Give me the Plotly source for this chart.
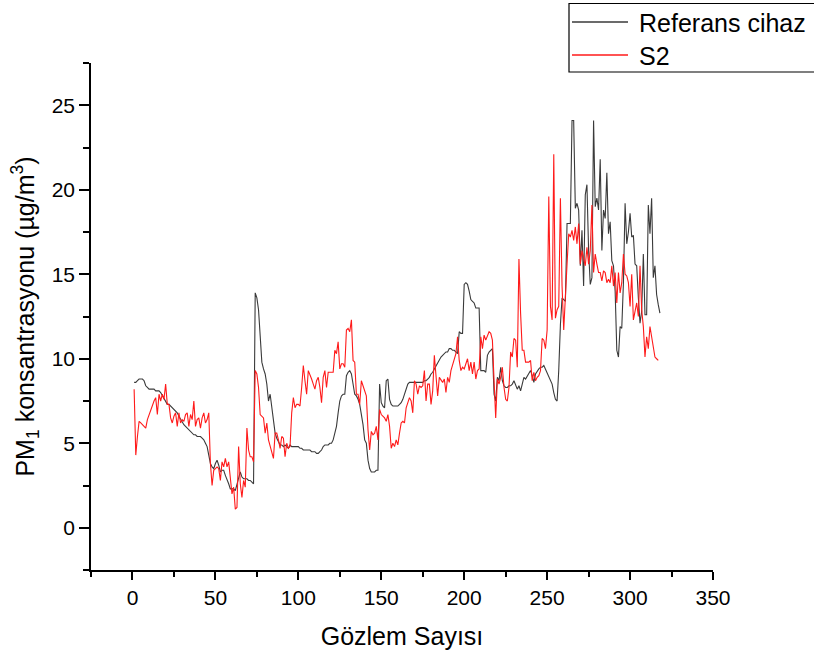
import plotly.graph_objects as go

# Reference device (Referans cihaz) PM1 values, observations 1..318
referans = [
    8.6, 8.6, 8.7, 8.8, 8.8, 8.8, 8.7, 8.4, 8.3, 8.2,
    8.2, 8.2, 8.2, 8.1, 8.1, 8.1, 8.0, 7.8, 7.6, 7.5,
    7.3, 7.3, 7.2, 7.1, 7.0, 6.9, 6.8, 6.6, 6.4, 6.3,
    6.1, 6.0, 5.9, 5.8, 5.7, 5.6, 5.5, 5.5, 5.4, 5.4,
    5.4, 5.3, 5.2, 5.0, 4.8, 4.3, 3.8, 3.6, 3.5, 3.8,
    4.0, 3.7, 3.3, 3.4, 3.4, 3.1, 2.9, 2.6, 2.3, 2.3,
    2.3, 2.2, 2.6, 3.0, 3.3, 3.0, 2.9, 2.9, 2.9, 2.8,
    2.8, 2.7, 2.6, 13.9, 13.6, 12.9, 11.0, 9.8, 9.4, 9.1,
    8.5, 7.5, 7.9, 7.1, 6.1, 5.6, 5.3, 5.1, 4.9, 4.9,
    4.8, 4.9, 4.8, 4.7, 4.9, 4.8, 4.8, 4.8, 4.8, 4.8,
    4.7, 4.7, 4.6, 4.6, 4.6, 4.6, 4.6, 4.5, 4.5, 4.5,
    4.4, 4.4, 4.5, 4.6, 4.8, 4.9, 4.9, 4.9, 5.0, 5.0,
    5.2, 5.6, 6.0, 6.8, 7.5, 7.8, 7.9, 7.9, 9.0, 9.2,
    9.3, 9.1, 8.4, 7.9, 7.8, 7.6, 7.3, 6.8, 6.1, 5.2,
    5.0, 4.0, 3.5, 3.3, 3.3, 3.3, 3.4, 3.4, 8.5, 7.4,
    7.2, 7.1, 8.7, 8.8, 7.6, 7.3, 7.2, 7.2, 7.2, 7.2,
    7.3, 7.4, 7.6, 7.9, 8.2, 8.5, 8.6, 8.6, 8.6, 8.6,
    8.6, 8.6, 8.6, 8.6, 8.6, 8.7, 8.7, 8.8, 8.9, 9.1,
    9.2, 9.4, 9.6, 9.8, 10.0, 10.1, 10.2, 10.3, 10.4, 10.4,
    10.6, 10.6, 10.5, 10.5, 10.4, 10.3, 11.6, 11.5, 11.5, 14.4,
    14.5, 14.4, 14.0, 13.5, 13.4, 13.3, 13.0, 13.0, 13.0, 9.3,
    9.3, 9.3, 9.2, 10.2, 10.4, 10.5, 10.6, 7.9, 7.5, 8.9,
    8.7, 9.5, 8.7, 8.4, 8.3, 8.3, 8.4, 8.4, 8.5, 8.7,
    8.4, 8.2, 8.4, 8.1, 8.5, 8.9, 8.8, 9.0, 9.2, 9.3,
    9.0, 8.6, 9.1, 9.3, 9.4, 9.5, 9.5, 9.6, 9.4, 9.1,
    8.9, 8.7, 8.5, 8.0, 7.6, 7.5, 9.3, 12.0, 13.6, 13.5,
    13.4, 18.0, 18.0, 18.0, 24.1, 24.1, 18.9, 19.2, 18.8, 15.5,
    17.6, 14.3, 19.7, 20.3, 16.4, 14.4, 14.8, 24.1, 19.0, 19.5,
    18.8, 21.8, 16.4, 18.8, 18.3, 21.0, 17.4, 18.1, 15.8, 15.5,
    14.0, 10.5, 10.1, 11.9, 11.8, 14.5, 19.2, 16.8, 17.5, 18.6,
    17.2, 17.3, 15.6, 15.5, 13.6, 12.1, 12.8, 16.2, 12.6, 12.6,
    19.1, 17.4, 19.5, 14.8, 15.5, 13.8, 13.2, 12.7,
]

# Sensor S2 PM1 values, observations 1..317
s2 = [
    8.2, 4.3, 5.4, 6.3, 6.2, 6.1, 6.0, 5.9, 6.4, 6.7,
    6.9, 7.3, 7.5, 7.7, 6.7, 7.9, 7.5, 7.9, 7.6, 8.5,
    7.3, 7.3, 6.5, 6.2, 6.6, 6.8, 6.0, 6.8, 6.2, 6.4,
    6.3, 6.7, 6.8, 6.0, 6.7, 6.4, 7.5, 6.0, 6.4, 6.5,
    5.9, 6.5, 6.8, 6.2, 6.4, 6.8, 3.8, 2.5, 3.4, 3.5,
    3.6, 3.5, 2.8, 3.9, 3.6, 4.1, 3.6, 3.9, 3.1, 2.0,
    2.4, 1.1, 1.2, 4.8, 2.6, 1.8, 2.8, 2.4, 5.9, 4.6,
    4.2, 4.2, 3.9, 9.3, 9.1, 8.3, 6.7, 6.6, 6.5, 5.6,
    6.2, 5.2, 4.8, 4.4, 4.1, 5.6, 5.6, 5.2, 4.7, 5.4,
    5.3, 4.2, 5.0, 4.7, 4.8, 6.8, 7.7, 7.1, 7.3, 7.3,
    7.2, 8.3, 9.6, 8.7, 7.9, 9.3, 9.1, 8.8, 8.5, 8.2,
    8.7, 8.9, 8.3, 7.4, 8.9, 9.3, 8.3, 9.2, 9.2, 9.2,
    9.2, 10.5, 10.3, 11.0, 9.4, 9.7, 9.7, 9.5, 11.7, 11.8,
    11.6, 12.3, 9.9, 9.8, 7.9, 7.9, 7.3, 8.7, 8.4, 8.1,
    7.8, 5.8, 4.6, 5.7, 5.5, 5.6, 6.0, 5.2, 7.0, 6.7,
    6.6, 6.5, 6.3, 6.7, 6.0, 4.7, 5.0, 4.8, 5.2, 4.9,
    5.6, 6.2, 6.3, 6.2, 7.1, 7.4, 7.7, 7.5, 6.8, 8.7,
    8.5, 7.9, 8.4, 8.3, 8.4, 9.3, 7.5, 8.5, 8.5, 7.3,
    8.1, 10.2, 9.1, 7.8, 8.9, 8.7, 8.6, 8.8, 8.0, 8.9,
    8.6, 9.3, 9.6, 9.9, 10.3, 11.3, 9.9, 9.3, 9.5, 9.4,
    9.7, 10.0, 9.3, 9.8, 9.1, 9.8, 8.8, 9.3, 9.4, 11.3,
    10.6, 11.4, 11.1, 11.4, 11.6, 11.5, 11.1, 8.7, 6.5, 8.8,
    8.5, 8.9, 9.5, 8.3, 7.6, 7.5, 8.3, 10.4, 10.1, 11.2,
    11.1, 9.5, 15.9, 12.7, 10.5, 10.5, 9.8, 9.8, 9.8, 9.9,
    8.7, 9.2, 8.7, 8.9, 9.0, 9.3, 11.2, 11.1, 10.6, 11.7,
    19.6, 13.1, 12.3, 22.1, 12.4, 12.9, 13.1, 19.5, 14.3, 11.7,
    14.2, 15.6, 17.4, 17.2, 17.6, 17.0, 17.8, 16.8, 18.0, 15.6,
    16.4, 16.0, 15.5, 16.6, 15.6, 16.4, 19.1, 15.1, 16.2, 15.6,
    15.1, 15.1, 14.6, 15.2, 15.1, 14.5, 14.7, 14.5, 15.5, 14.3,
    15.1, 13.3, 15.1, 13.9, 14.5, 16.2, 15.0, 14.9, 14.5, 13.1,
    15.0, 12.3, 12.9, 13.3, 12.5, 15.5, 12.9, 11.9, 10.1, 11.3,
    10.6, 11.9, 11.3, 10.7, 10.1, 10.0, 9.9,
]

series_names = ["Referans cihaz", "S2"]
series_colors = ["#3a3a3a", "#ff1a1a"]

obs_ref = list(range(1, len(referans) + 1))
obs_s2 = list(range(1, len(s2) + 1))

FONT = "Arial, Liberation Sans, sans-serif"

fig = go.Figure()
fig.add_trace(go.Scatter(x=obs_ref, y=referans, mode="lines", name=series_names[0],
                         line=dict(color=series_colors[0], width=1.1), showlegend=False))
fig.add_trace(go.Scatter(x=obs_s2, y=s2, mode="lines", name=series_names[1],
                         line=dict(color=series_colors[1], width=1.1), showlegend=False))

# the page body margin is removed by post_script, so figure px == page px
W, H = 814, 653
plot_left, plot_right, plot_top, plot_bottom = 91, 713, 63, 570
L, T = plot_left, plot_top
R, B = W - plot_right, H - plot_bottom
pw = plot_right - plot_left
ph = plot_bottom - plot_top


def px_x(vx):
    return (vx - plot_left) / pw


def px_y(vy):
    return (plot_bottom - vy) / ph


# legend box drawn by hand (extends past the right edge like the reference)
shapes = [
    dict(type="rect", xref="paper", yref="paper",
         x0=px_x(569), x1=px_x(840), y0=px_y(72), y1=px_y(3.5),
         line=dict(color="black", width=1.2), fillcolor="white", layer="above"),
]
annotations = []
legend_rows_y = [22, 55]
for name, color, vy in zip(series_names, series_colors, legend_rows_y):
    shapes.append(dict(type="line", xref="paper", yref="paper",
                       x0=px_x(572), x1=px_x(628), y0=px_y(vy), y1=px_y(vy),
                       line=dict(color=color, width=1.5), layer="above"))
    annotations.append(dict(xref="paper", yref="paper", x=px_x(637), y=px_y(vy + 1),
                            xanchor="left", yanchor="middle", showarrow=False,
                            text=name, font=dict(size=25, family=FONT, color="black")))

fig.update_layout(
    width=W, height=H,
    margin=dict(l=L, r=R, t=T, b=B, autoexpand=False),
    paper_bgcolor="white", plot_bgcolor="white",
    font=dict(family=FONT, color="black", size=21),
    showlegend=False,
    shapes=shapes,
    annotations=annotations,
    xaxis=dict(
        range=[-25, 350], showgrid=False, zeroline=False,
        showline=True, linecolor="black", linewidth=1.5,
        ticks="outside", ticklen=8, tickwidth=1.5, tickcolor="black",
        tick0=0, dtick=50,
        minor=dict(ticks="outside", ticklen=5, tickwidth=1.5, tickcolor="black", dtick=25, tick0=0),
        tickfont=dict(size=21),
        title=dict(text="Gözlem Sayısı", font=dict(size=25), standoff=20),
    ),
    yaxis=dict(
        range=[-2.5, 27.5], showgrid=False, zeroline=False,
        showline=True, linecolor="black", linewidth=1.5,
        ticks="outside", ticklen=10, tickwidth=1.5, tickcolor="black",
        tick0=0, dtick=5,
        minor=dict(ticks="outside", ticklen=6, tickwidth=1.5, tickcolor="black", dtick=2.5, tick0=0),
        tickfont=dict(size=21),
        title=dict(text="PM<sub>1</sub> konsantrasyonu (µg/m<sup>3</sup>)", font=dict(size=25), standoff=10),
    ),
)

fig.write_html("out.html", config={"displayModeBar": False},
               post_script="document.body.style.margin='0';")
